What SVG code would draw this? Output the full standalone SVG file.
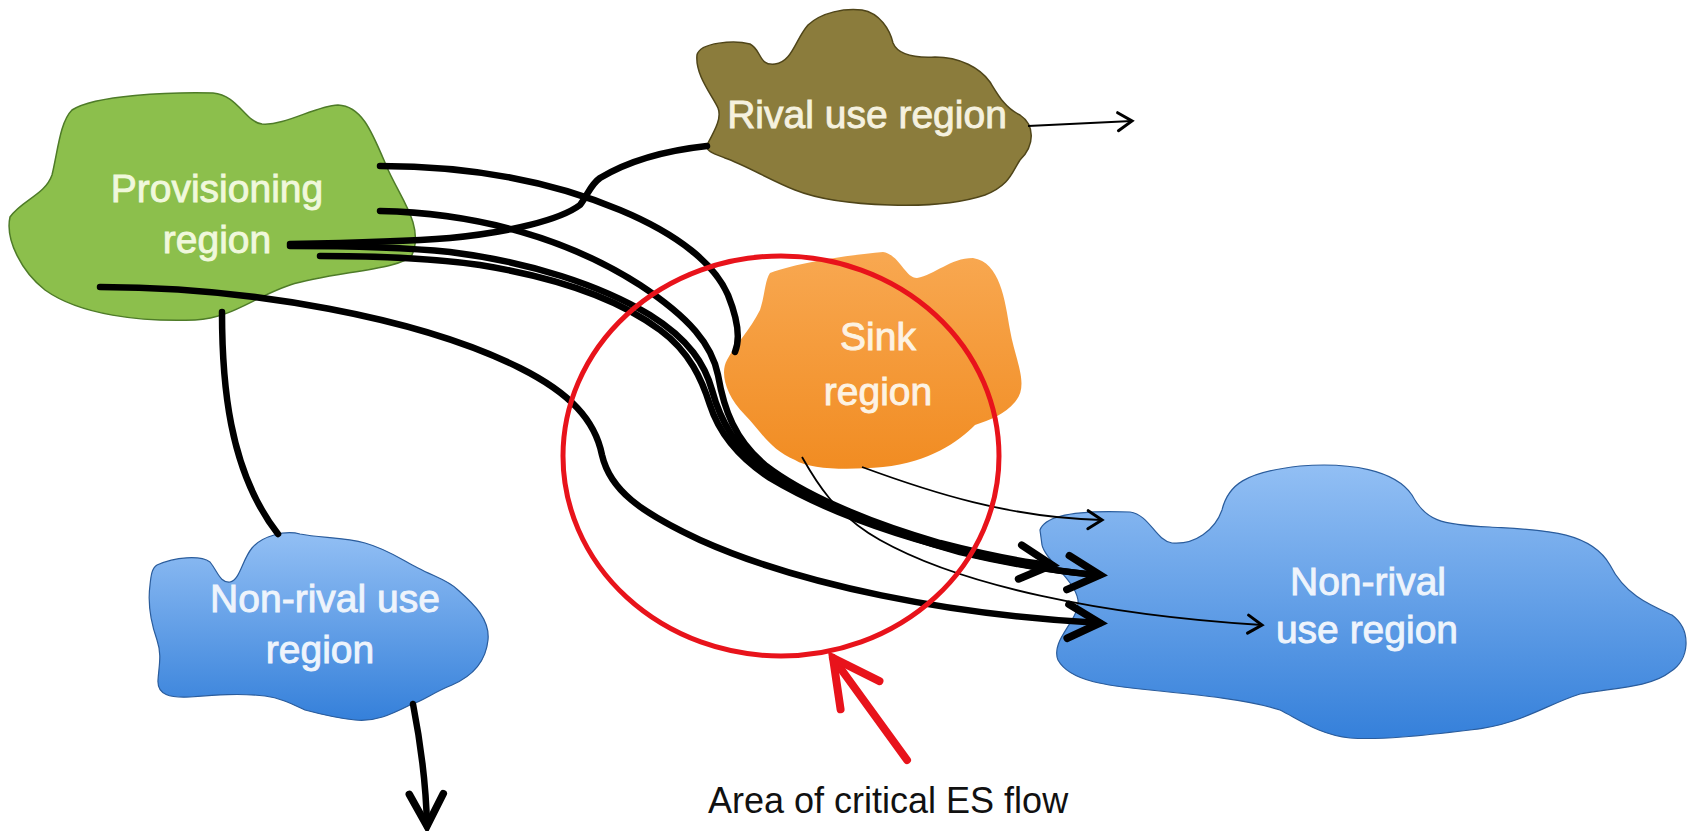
<svg xmlns="http://www.w3.org/2000/svg" width="1688" height="831" viewBox="0 0 1688 831">
<style>
.lbl{font-family:"Liberation Sans",Arial,sans-serif;font-size:39px;text-anchor:middle;stroke-width:0.9}
.thick{fill:none;stroke:#000;stroke-width:6.5;stroke-linecap:round}
.thin{fill:none;stroke:#000;stroke-width:1.8}
</style>
<defs>
<linearGradient id="gBlue" x1="0" y1="0" x2="0" y2="1">
<stop offset="0" stop-color="#92bff4"/><stop offset="1" stop-color="#3580da"/>
</linearGradient>
<linearGradient id="gOrange" x1="0" y1="0" x2="0" y2="1">
<stop offset="0" stop-color="#f8a851"/><stop offset="1" stop-color="#f18c22"/>
</linearGradient>
<marker id="ahThick" markerUnits="userSpaceOnUse" markerWidth="44" markerHeight="44" viewBox="-40 -22 44 44" refX="0" refY="0" orient="auto" overflow="visible">
<path d="M-32,-17 L0,0 L-32,17" fill="none" stroke="#000" stroke-width="7.5" stroke-linecap="round"/>
</marker>
<marker id="ahThin" markerUnits="userSpaceOnUse" markerWidth="24" markerHeight="24" viewBox="-20 -12 24 24" refX="0" refY="0" orient="auto" overflow="visible">
<path d="M-14,-9 L0,0 L-14,9" fill="none" stroke="#000" stroke-width="3" stroke-linecap="round"/>
</marker>
<marker id="ahRed" markerUnits="userSpaceOnUse" markerWidth="60" markerHeight="60" viewBox="-55 -30 60 60" refX="0" refY="0" orient="auto" overflow="visible">
<path d="M-46,-24 L0,0 L-46,24" fill="none" stroke="#e8131b" stroke-width="8" stroke-linecap="round"/>
</marker>
</defs>
<rect width="1688" height="831" fill="#fff"/>

<g id="provisioning">
<path d="M10,217 C 22,200 45,195 52,175 C 58,150 60,122 72,110 C 95,95 170,92 213,93 C 238,95 245,122 262,124 C 285,126 315,106 338,105 C 362,106 372,132 386,165 C 398,195 425,225 412,255 C 402,270 330,272 290,285 C 252,298 232,318 195,320 C 140,322 80,315 45,290 C 22,272 5,240 10,217 Z" fill="#8cbf4c" stroke="#4e7b28" stroke-width="1.5"/>
<text class="lbl" x="217" y="202" fill="#f0f8dc" stroke="#f0f8dc">Provisioning</text>
<text class="lbl" x="217" y="253" fill="#f0f8dc" stroke="#f0f8dc">region</text>
</g>

<g id="rival">
<path d="M707,145 C 715,130 722,118 718,108 C 712,95 695,75 697,55 C 700,42 735,40 750,44 C 762,50 758,66 775,64 C 792,62 795,40 808,25 C 822,12 845,8 862,10 C 880,13 890,30 893,43 C 898,55 915,58 935,57 C 960,57 980,68 990,82 C 998,95 1005,108 1020,115 C 1035,125 1035,145 1020,160 C 1012,172 1010,185 985,195 C 955,205 920,206 890,205 C 855,204 820,200 795,190 C 770,180 745,165 725,158 C 715,154 705,151 707,145 Z" fill="#8b7c3c" stroke="#4f4519" stroke-width="1.5"/>
<text class="lbl" x="867" y="128" fill="#f5f1df" stroke="#f5f1df">Rival use region</text>
</g>

<g id="sink">
<path d="M770,273 C 800,262 850,255 883,252 C 900,255 905,278 917,278 C 935,275 950,258 973,258 C 1000,262 1005,300 1010,330 C 1015,360 1030,385 1015,402 C 1005,414 990,420 975,425 C 958,442 930,462 883,467 C 850,470 810,470 795,460 C 770,450 760,430 745,415 C 725,395 720,372 727,360 C 735,345 750,330 760,310 C 765,295 765,280 770,273 Z" fill="url(#gOrange)"/>
<text class="lbl" x="878" y="350" fill="#fdf3e3" stroke="#fdf3e3">Sink</text>
<text class="lbl" x="878" y="405" fill="#fdf3e3" stroke="#fdf3e3">region</text>
</g>

<g id="nonrival-small">
<path d="M157,565 C 175,557 200,555 210,562 C 218,572 220,583 230,582 C 240,580 242,560 252,548 C 262,536 285,530 300,534 C 320,538 345,537 365,543 C 390,550 405,562 418,568 C 435,577 448,580 458,590 C 475,605 490,620 488,640 C 486,660 475,675 452,685 C 432,693 425,700 410,705 C 390,715 375,722 355,720 C 335,718 320,714 305,710 C 290,703 280,698 265,696 C 240,693 215,695 190,697 C 170,698 157,695 158,680 C 159,665 162,655 157,640 C 150,620 148,600 150,585 C 151,575 152,568 157,565 Z" fill="url(#gBlue)" stroke="#2a5c9c" stroke-width="1.2"/>
<text class="lbl" x="325" y="612" fill="#eef4fc" stroke="#eef4fc">Non-rival use</text>
<text class="lbl" x="320" y="663" fill="#eef4fc" stroke="#eef4fc">region</text>
</g>

<g id="nonrival-big">
<path d="M1040,530 C 1045,515 1080,510 1130,512 C 1150,515 1155,540 1172,543 C 1195,545 1215,530 1222,510 C 1228,485 1245,472 1300,466 C 1350,462 1395,470 1412,495 C 1425,520 1440,525 1490,527 C 1540,530 1590,530 1610,565 C 1625,595 1650,605 1672,615 C 1692,630 1690,660 1670,672 C 1650,688 1610,688 1580,694 C 1545,705 1520,725 1470,730 C 1420,736 1380,740 1350,738 C 1320,735 1300,720 1280,710 C 1250,700 1200,695 1150,690 C 1110,686 1070,682 1058,660 C 1050,640 1080,620 1078,600 C 1075,580 1045,560 1042,545 Z" fill="url(#gBlue)" stroke="#2a5c9c" stroke-width="1.2"/>
<text class="lbl" x="1368" y="595" fill="#eef4fc" stroke="#eef4fc">Non-rival</text>
<text class="lbl" x="1367" y="643" fill="#eef4fc" stroke="#eef4fc">use region</text>
</g>

<g id="connectors">
<path class="thick" d="M380,166 C 480,166 560,185 620,210 C 680,235 715,265 728,295 C 738,320 740,340 735,352"/>
<path class="thick" d="M290,244 C 350,243 400,242 450,238 C 510,232 560,220 580,205 C 588,195 590,185 600,178 C 630,160 670,150 707,146"/>
<path class="thick" d="M380,211 C 480,213 570,240 640,285 C 690,318 712,345 718,375 C 724,410 735,440 765,465 C 800,492 860,520 940,543 C 990,556 1020,562 1052,565" marker-end="url(#ahThick)"/>
<path class="thick" d="M320,256 C 380,256 430,258 480,265 C 560,278 620,300 660,330 C 690,352 702,380 710,405 C 718,430 735,455 770,478 C 820,508 890,535 980,556 C 1030,566 1060,572 1098,575"/>
<path class="thick" d="M290,246 C 350,246 400,247 450,252 C 530,262 600,285 650,315 C 690,340 705,365 712,390 C 720,420 735,448 765,470 C 810,500 880,530 960,552 C 1020,566 1060,572 1100,575" marker-end="url(#ahThick)"/>
<path class="thick" d="M100,287 C 250,287 420,318 520,368 C 570,393 595,420 602,455 C 610,490 640,512 700,540 C 800,585 950,615 1100,623" marker-end="url(#ahThick)"/>
<path class="thick" d="M222,312 C 222,380 228,470 278,534"/>
<path class="thick" d="M413,704 C 420,740 426,780 427,826" marker-end="url(#ahThick)"/>
<path class="thin" d="M1028,126 L1132,121" marker-end="url(#ahThin)"/>
<path class="thin" d="M862,467 C 930,492 1010,518 1102,520" marker-end="url(#ahThin)"/>
<path class="thin" d="M802,457 C 815,480 835,515 880,540 C 960,585 1100,615 1262,625" marker-end="url(#ahThin)"/>
</g>

<g id="critical-area">
<ellipse cx="781" cy="456" rx="218" ry="200" fill="none" stroke="#e8131b" stroke-width="5"/>
<path d="M907,760 L833,658" fill="none" stroke="#e8131b" stroke-width="8" stroke-linecap="round" marker-end="url(#ahRed)"/>
<text x="708" y="813" font-family="Liberation Sans, Arial, sans-serif" font-size="36" fill="#111">Area of critical ES flow</text>
</g>
</svg>
